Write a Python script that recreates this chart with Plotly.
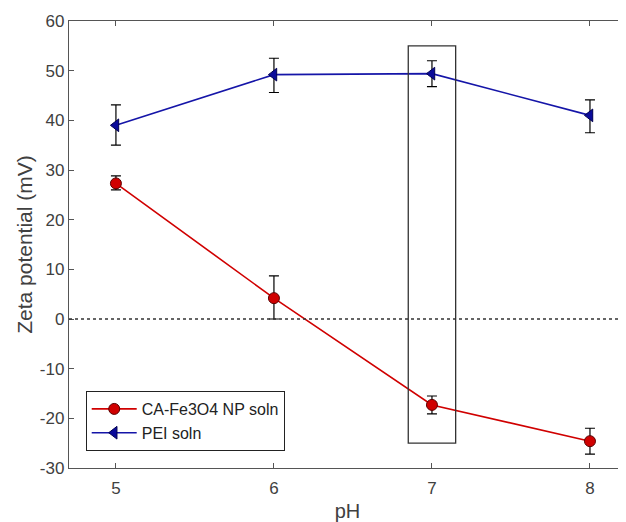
import plotly.graph_objects as go

ph = [5, 6, 7, 8]
ca_vals = [27.3, 4.2, -17.3, -24.6]
ca_err_plus = [1.5, 4.5, 1.8, 2.6]
ca_err_minus = [1.3, 4.2, 1.8, 2.6]
pei_vals = [39.0, 49.2, 49.4, 41.0]
pei_err_plus = [4.1, 3.3, 2.6, 3.1]
pei_err_minus = [4.0, 3.6, 2.6, 3.5]
y_ticks = [-30, -20, -10, 0, 10, 20, 30, 40, 50, 60]
y_tick_labels = ["-30", "-20", "-10", "0", "10", "20", "30", "40", "50", "60"]
x_ticks = [5, 6, 7, 8]
box_x = [6.85, 7.15]
box_y = [-25, 55]

fig = go.Figure()
fig.add_trace(go.Scatter(
    x=ph, y=ca_vals, mode="lines+markers", name="CA-Fe3O4 NP soln",
    line=dict(color="#D00000", width=1.6),
    marker=dict(symbol="circle", size=11, color="#D00000", line=dict(color="#5a0000", width=1)),
    error_y=dict(type="data", array=ca_err_plus, arrayminus=ca_err_minus, color="black", thickness=1.2, width=5),
))
fig.add_trace(go.Scatter(
    x=ph, y=pei_vals, mode="lines+markers", name="PEI soln",
    line=dict(color="#1515A8", width=1.6),
    marker=dict(symbol="triangle-left", size=11, color="#0A0A9A", line=dict(color="#000050", width=1)),
    error_y=dict(type="data", array=pei_err_plus, arrayminus=pei_err_minus, color="black", thickness=1.2, width=5),
))
fig.add_trace(go.Scatter(x=ph, y=pei_vals, xaxis="x2", mode="markers", marker=dict(opacity=0),
                         showlegend=False, hoverinfo="skip"))

fig.add_shape(type="line", xref="paper", x0=0, x1=1, yref="y", y0=0, y1=0,
              line=dict(color="#333333", width=1.3, dash="dot"))
fig.add_shape(type="rect", xref="x", yref="y", x0=box_x[0], x1=box_x[1], y0=box_y[0], y1=box_y[1],
              line=dict(color="#333333", width=1.3))

font_col = "#404040"
fig.update_layout(
    width=618, height=514,
    margin=dict(l=61, r=0, t=13, b=54, autoexpand=False),
    plot_bgcolor="white", paper_bgcolor="white",
    font=dict(family="Liberation Sans, Arial, sans-serif", size=17, color=font_col),
    xaxis=dict(range=[4.703, 8.228], tickvals=x_ticks, ticks="inside", ticklen=5, tickcolor="#555",
               showline=True, linecolor="#555", linewidth=1.3, showgrid=False, zeroline=False,
               automargin=False, ticklabelstandoff=4,
               title=dict(text="pH", font=dict(size=20, color=font_col), standoff=12),
               tickfont=dict(size=17, color=font_col)),
    xaxis2=dict(range=[4.703, 8.228], tickvals=x_ticks, overlaying="x", side="top", ticks="inside", ticklen=5,
                tickcolor="#555", showline=True, linecolor="#555", linewidth=1.3, showgrid=False,
                showticklabels=False, zeroline=False, automargin=False),
    yaxis=dict(range=[-30, 60], tickvals=y_ticks, ticktext=y_tick_labels, ticks="inside", ticklen=5,
               tickcolor="#555",
               showline=True, linecolor="#555", linewidth=1.3, showgrid=False, zeroline=False,
               automargin=False,
               title=dict(text="Zeta potential (mV)", font=dict(size=21, color=font_col), standoff=1),
               tickfont=dict(size=17, color=font_col)),
    legend=dict(x=0.03, y=0.038, xanchor="left", yanchor="bottom", bgcolor="white",
                bordercolor="#222", borderwidth=1, font=dict(size=16, color="#222"),
                tracegroupgap=0, itemwidth=45),
    showlegend=True,
)
fig.write_html("out.html")
